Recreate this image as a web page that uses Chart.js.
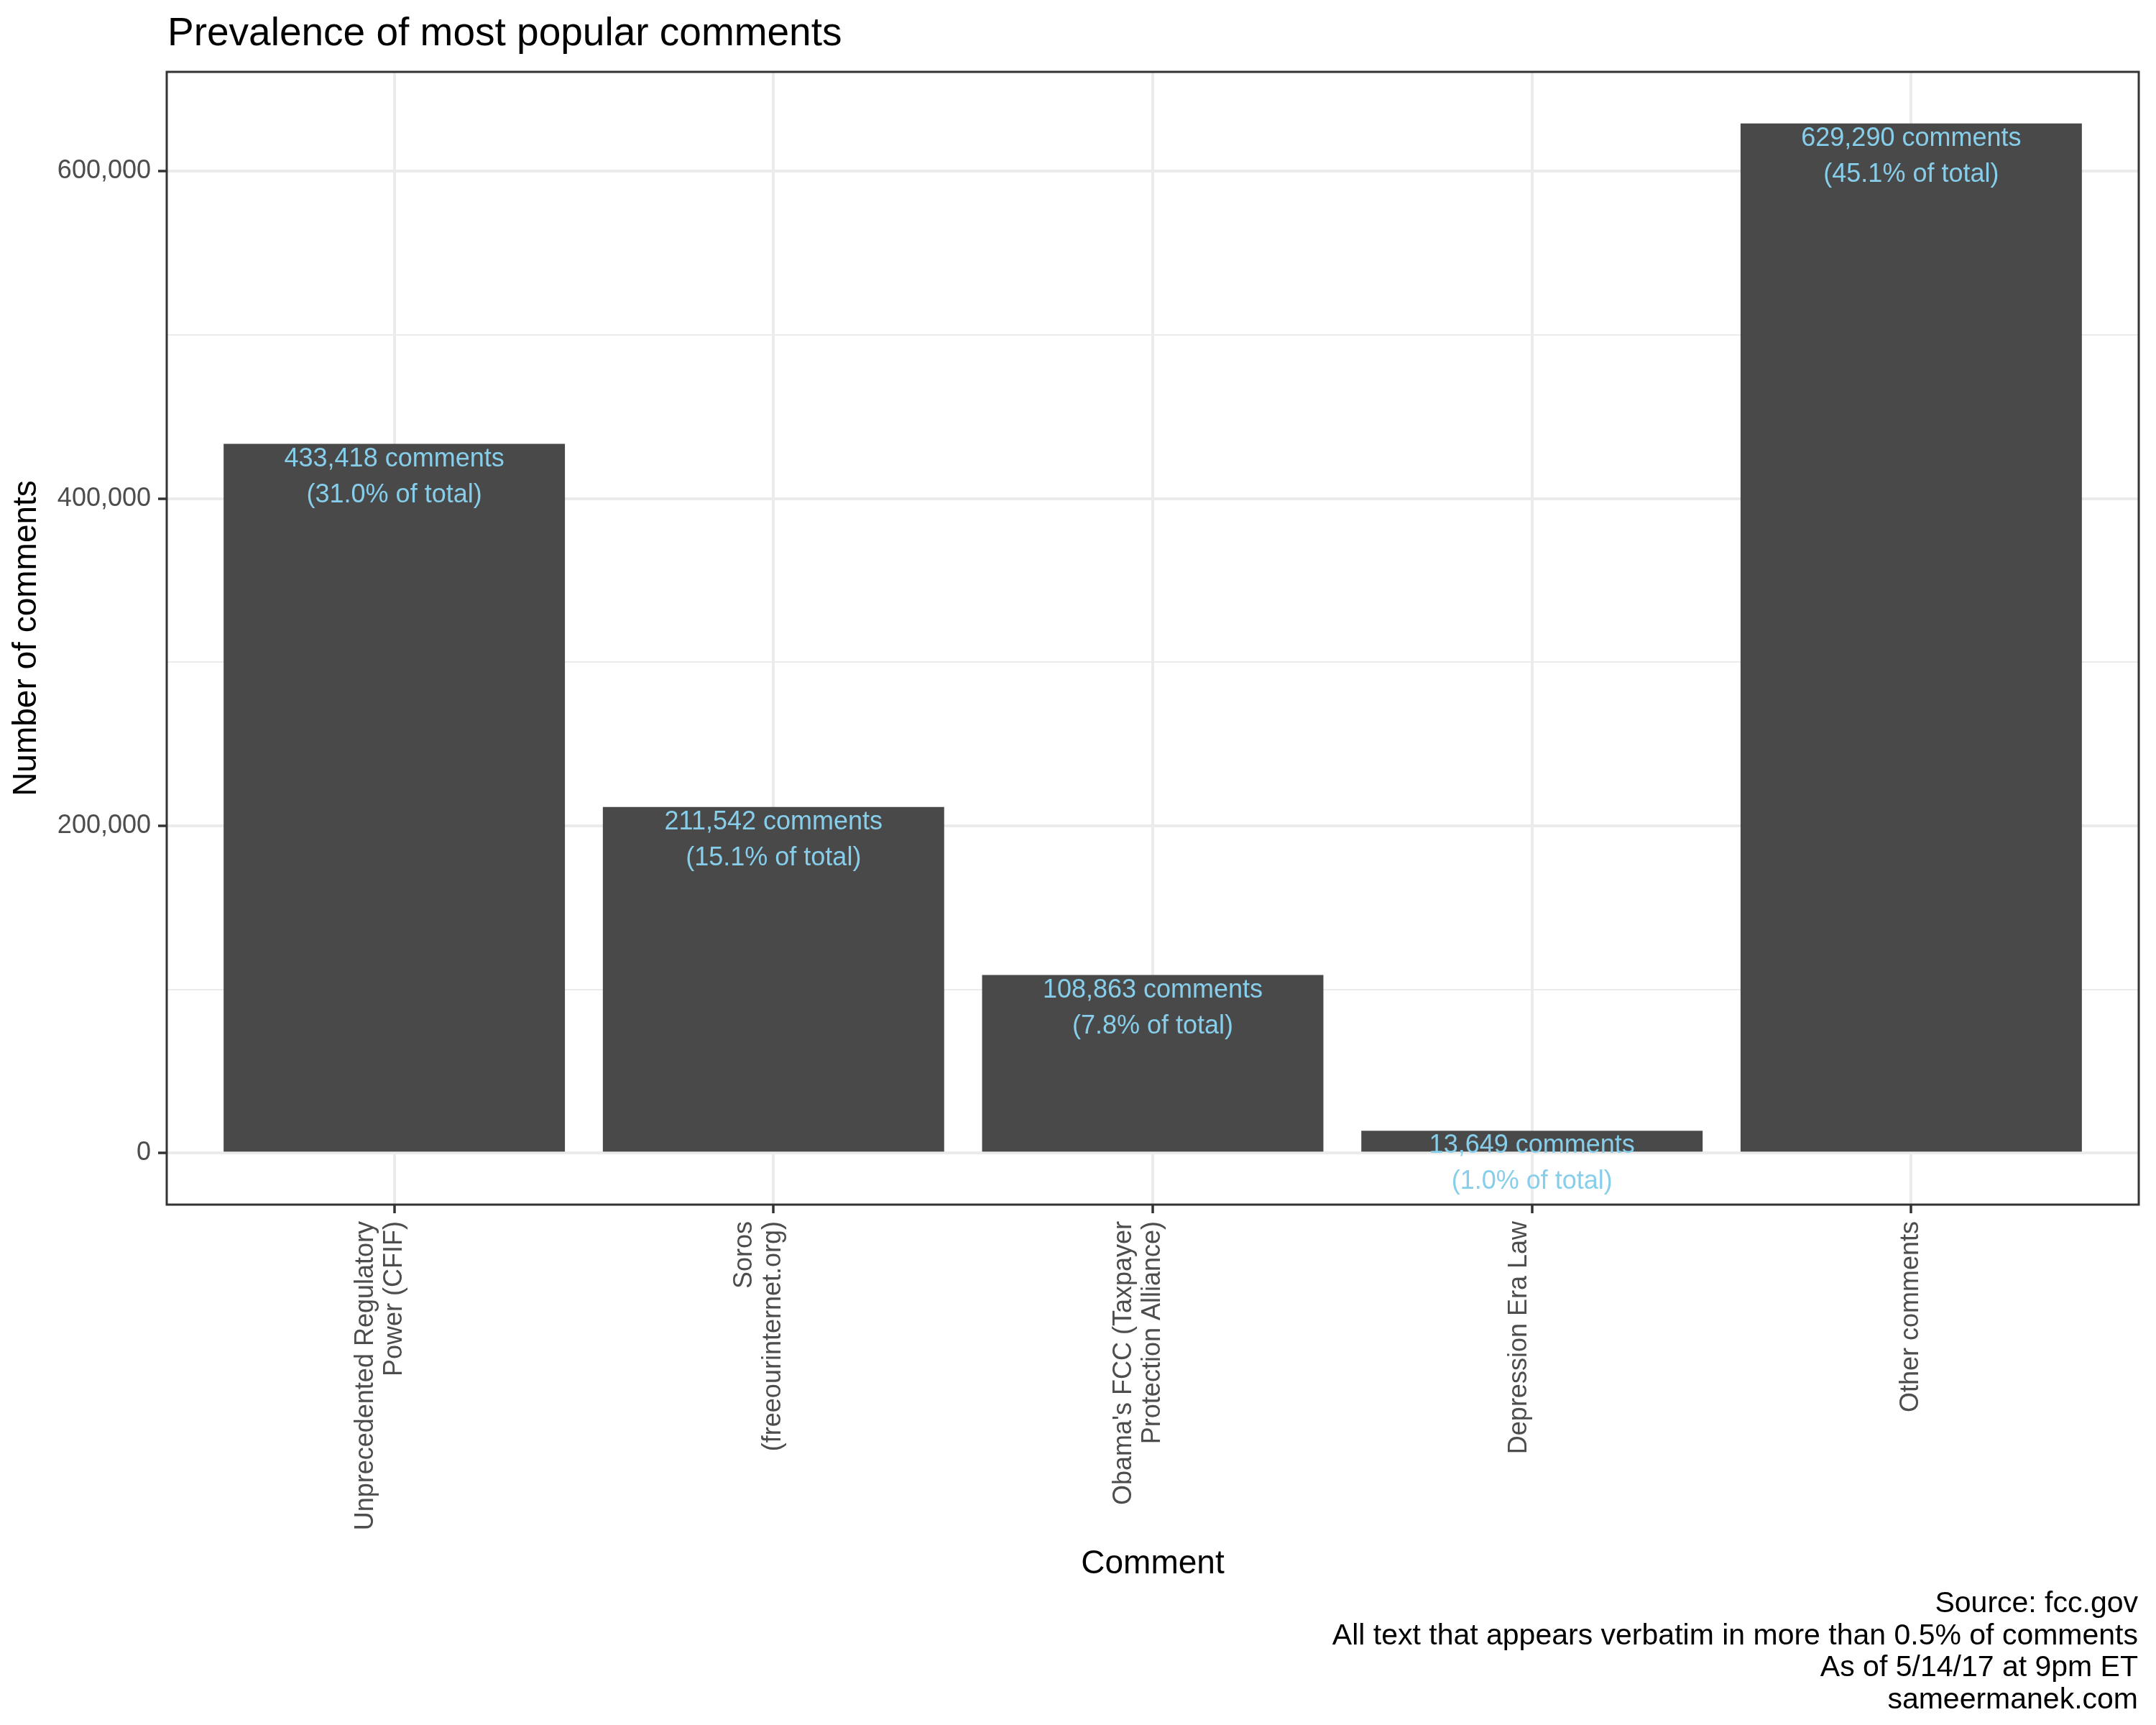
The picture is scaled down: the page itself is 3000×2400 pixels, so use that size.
<!DOCTYPE html>
<html>
<head>
<meta charset="utf-8">
<script src="https://cdn.jsdelivr.net/npm/chart.js@4.4.1/dist/chart.umd.min.js"></script>
<style>
  html, body { margin: 0; padding: 0; background: #ffffff; }
  #wrap { width: 3000px; height: 2400px; }
</style>
</head>
<body>
<div id="wrap"><canvas id="commentsChart"></canvas></div>
<script>
// Data
const comments = [
    'Unprecedented Regulatory\nPower (CFIF)',
    'Soros\n(freeourinternet.org)',
    "Obama's FCC (Taxpayer\nProtection Alliance)",
    'Depression Era Law',
    'Other comments'
];
const counts = [433418, 211542, 108863, 13649, 629290];
const shares = [31.0, 15.1, 7.8, 1.0, 45.1];
const yTicks = [0, 100000, 200000, 300000, 400000, 500000, 600000];
const captionLines = [
    'Source: fcc.gov',
    'All text that appears verbatim in more than 0.5% of comments',
    'As of 5/14/17 at 9pm ET',
    'sameermanek.com'
];

const FONT = "'Liberation Sans', Arial, Helvetica, sans-serif";
const BAR = '#494949';
const LABEL = '#87CEEB';
const GRID = '#EBEBEB';
const DARK = '#333333';
const TICKTEXT = '#4D4D4D';

// ggplot style expansion: 5% on y, 0.6 units on the discrete x
const peak = Math.max(...counts);
const yMin = -peak * 0.05;
const yMax = peak * 1.05;

// panel border, bar labels, title and caption
const decorations = {
    id: 'decorations',
    afterDatasetsDraw(chart) {
        const ctx = chart.ctx;
        const area = chart.chartArea;
        ctx.save();
        ctx.strokeStyle = DARK;
        ctx.lineWidth = 3;
        ctx.strokeRect(area.left, area.top, area.right - area.left, area.bottom - area.top);

        ctx.fillStyle = LABEL;
        ctx.font = '36px ' + FONT;
        ctx.textAlign = 'center';
        ctx.textBaseline = 'alphabetic';
        chart.getDatasetMeta(0).data.forEach((bar, i) => {
            ctx.fillText(counts[i].toLocaleString('en-US') + ' comments', bar.x, bar.y + 31);
            ctx.fillText('(' + shares[i].toFixed(1) + '% of total)', bar.x, bar.y + 81);
        });
        ctx.restore();
    },
    afterDraw(chart) {
        const ctx = chart.ctx;
        const area = chart.chartArea;
        ctx.save();
        ctx.fillStyle = '#000000';
        ctx.textBaseline = 'alphabetic';
        ctx.font = '55px ' + FONT;
        ctx.textAlign = 'left';
        ctx.fillText('Prevalence of most popular comments', area.left + 1, 63);

        ctx.font = '41px ' + FONT;
        ctx.textAlign = 'right';
        captionLines.forEach((line, i) => {
            ctx.fillText(line, area.right - 1, 2243 + i * 44.7);
        });
        ctx.restore();
    }
};

const ctx = document.getElementById('commentsChart').getContext('2d');
new Chart(ctx, {
    type: 'bar',
    data: {
        datasets: [{
            data: counts.map((v, i) => ({ x: i + 1, y: v })),
            backgroundColor: BAR,
            borderWidth: 0,
            categoryPercentage: 1.0,
            barPercentage: 0.9
        }]
    },
    options: {
        responsive: true,
        maintainAspectRatio: false,
        devicePixelRatio: 1,
        animation: false,
        layout: { padding: { top: 100, right: 24, bottom: 0, left: 0 } },
        plugins: {
            legend: { display: false },
            tooltip: { enabled: false }
        },
        scales: {
            x: {
                type: 'linear',
                min: 0.4,
                max: 5.6,
                offset: false,
                afterBuildTicks: scale => {
                    scale.ticks = comments.map((c, i) => ({ value: i + 1 }));
                },
                afterFit: scale => { scale.height = 724; },
                border: { display: false },
                grid: {
                    offset: false,
                    color: GRID,
                    lineWidth: 4,
                    tickLength: 12,
                    tickColor: DARK,
                    tickWidth: 3.5
                },
                ticks: {
                    autoSkip: false,
                    minRotation: 90,
                    maxRotation: 90,
                    padding: 11,
                    labelOffset: -40,
                    color: TICKTEXT,
                    // last line sits on the tick, earlier lines step to the left
                    font: c => ({ family: FONT, size: 36, lineHeight: c.index === 3 ? '22px' : '40px' }),
                    callback: value => {
                        const lines = comments[value - 1].split('\n');
                        return lines.length === 1 ? ['', lines[0]] : lines;
                    }
                },
                title: {
                    display: true,
                    text: 'Comment',
                    color: '#000000',
                    font: { family: FONT, size: 46, lineHeight: 1.2 },
                    padding: { top: 0, bottom: 196 }
                }
            },
            y: {
                type: 'linear',
                min: yMin,
                max: yMax,
                afterBuildTicks: scale => {
                    scale.ticks = yTicks.map(v => ({ value: v }));
                },
                afterFit: scale => { scale.width = 232; },
                border: { display: false },
                grid: {
                    color: GRID,
                    lineWidth: c => (c.tick.value % 200000 === 0 ? 4 : 2),
                    tickLength: 12,
                    tickColor: c => (c.tick.value % 200000 === 0 ? DARK : 'rgba(0,0,0,0)'),
                    tickWidth: 3.5
                },
                ticks: {
                    padding: 10,
                    color: TICKTEXT,
                    font: { family: FONT, size: 36 },
                    callback: value => (value % 200000 === 0 ? value.toLocaleString('en-US') : '')
                },
                title: {
                    display: true,
                    text: 'Number of comments',
                    color: '#000000',
                    font: { family: FONT, size: 46, lineHeight: 1.2 },
                    padding: { top: 10, bottom: 0 }
                }
            }
        }
    },
    plugins: [decorations]
});
</script>
</body>
</html>
